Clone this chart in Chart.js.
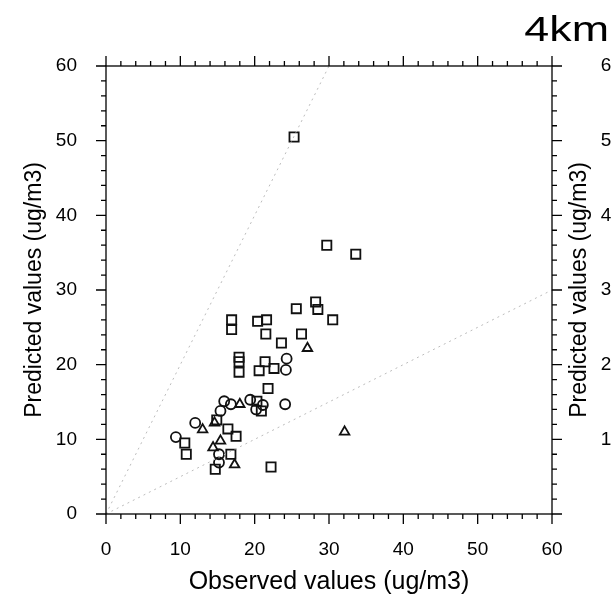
<!DOCTYPE html>
<html>
<head>
<meta charset="utf-8">
<script src="https://cdn.jsdelivr.net/npm/chart.js@4/dist/chart.umd.min.js"></script>
<style>
  html, body { margin: 0; padding: 0; background: #fff; overflow: hidden; }
  #wrap { position: relative; width: 612px; height: 599px; overflow: hidden; }
  canvas { position: absolute; top: 0; }
  #c1 { left: 0; }
  #c2 { left: 545px; }
</style>
</head>
<body>
<div id="wrap">
  <canvas id="c1" width="612" height="599"></canvas>
  <canvas id="c2" width="612" height="599"></canvas>
</div>
<script>
// values (ug/m3)
const obsSquare  = [25.3, 29.7, 33.6, 28.2, 28.5, 25.6, 30.5, 16.9, 16.9, 20.4, 21.6, 21.5, 26.3, 23.6, 17.9, 17.9, 17.9, 21.4, 20.6, 22.6, 21.8, 20.3, 20.9, 14.9, 16.4, 17.5, 10.6, 10.8, 16.8, 14.7, 22.2];
const predSquare = [50.5, 36.0, 34.8, 28.4, 27.4, 27.5, 26.0, 26.0, 24.7, 25.8, 26.0, 24.1, 24.1, 22.9, 21.0, 20.4, 19.0, 20.4, 19.2, 19.5, 16.8, 15.1, 13.8, 12.6, 11.4, 10.4, 9.5, 8.0, 8.0, 6.0, 6.3];

const obsCircle  = [24.3, 24.2, 24.1, 15.9, 16.8, 15.4, 19.4, 21.1, 20.2, 12.0, 9.4, 15.2, 15.2];
const predCircle = [20.8, 19.3, 14.7, 15.1, 14.7, 13.8, 15.3, 14.6, 14.0, 12.2, 10.3, 8.0, 6.9];

const obsTriangle  = [27.1, 18.0, 14.6, 13.0, 15.4, 14.4, 17.3, 32.1];
const predTriangle = [22.2, 14.7, 12.2, 11.3, 9.8, 8.9, 6.6, 11.0];

// 1:2 and 2:1 guide lines
const lineUpper = [[0, 0], [30, 60]];
const lineLower = [[0, 0], [60, 30]];

const axisMin = 0, axisMax = 60, majorStep = 10, minorStep = 2;
const xTitle = 'Observed values (ug/m3)';
const yTitle = 'Predicted values (ug/m3)';
const panelTitle = '4km';

const FONT = "'Liberation Sans', Arial, Helvetica, sans-serif";
Chart.defaults.color = '#000';
Chart.defaults.font.family = FONT;

const pts = (xs, ys) => xs.map((v, i) => ({ x: v, y: ys[i] }));

// frame + outward major/minor ticks on all four sides
const frameTicks = {
  id: 'frameTicks',
  afterDatasetsDraw(chart) {
    const { ctx, chartArea: a, scales: { x, y } } = chart;
    ctx.save();
    ctx.strokeStyle = '#000';
    ctx.lineWidth = 1.3;
    ctx.strokeRect(a.left, a.top, a.right - a.left, a.bottom - a.top);
    ctx.beginPath();
    for (let v = axisMin; v <= axisMax; v += minorStep) {
      const len = v % majorStep === 0 ? 10 : 5;
      const px = x.getPixelForValue(v), py = y.getPixelForValue(v);
      ctx.moveTo(px, a.bottom); ctx.lineTo(px, a.bottom + len);
      ctx.moveTo(px, a.top); ctx.lineTo(px, a.top - len);
      ctx.moveTo(a.left, py); ctx.lineTo(a.left - len, py);
      ctx.moveTo(a.right, py); ctx.lineTo(a.right + len, py);
    }
    ctx.stroke();
    ctx.restore();
  }
};

const titleText = {
  id: 'titleText',
  afterDraw(chart, args, opts) {
    if (!opts.text) return;
    const ctx = chart.ctx;
    ctx.save();
    ctx.translate(609, 41);
    ctx.scale(1.28, 1);
    ctx.font = '35px ' + FONT;
    ctx.fillStyle = '#000';
    ctx.textAlign = 'right';
    ctx.textBaseline = 'alphabetic';
    ctx.fillText(opts.text, 0, 0);
    ctx.restore();
  }
};

function scaleOpts(isX) {
  return {
    type: 'linear',
    min: axisMin,
    max: axisMax,
    afterFit: isX ? s => { s.height = 85; } : s => { s.width = 106; },
    grid: { display: false, drawTicks: false },
    border: { display: false },
    ticks: {
      stepSize: majorStep,
      padding: isX ? 24 : 29,
      color: '#000',
      font: { size: 19 }
    },
    title: {
      display: true,
      text: isX ? xTitle : yTitle,
      color: '#000',
      font: { size: isX ? 25 : 23, lineHeight: 1 },
      padding: isX ? { top: 0, bottom: 4.5 } : { top: 23.5, bottom: 0 }
    }
  };
}

function markerSet(label, data, style, radius) {
  return {
    type: 'scatter',
    label,
    data,
    pointStyle: style,
    pointRadius: radius,
    borderColor: '#111',
    backgroundColor: 'rgba(0,0,0,0)',
    pointBorderWidth: 1.8
  };
}

function guideSet(label, pairs) {
  return {
    type: 'line',
    label,
    data: pairs.map(p => ({ x: p[0], y: p[1] })),
    borderColor: '#bcbcbc',
    borderWidth: 1,
    borderDash: [2, 4],
    pointRadius: 0,
    fill: false
  };
}

function makeChart(id, datasets, title) {
  return new Chart(document.getElementById(id), {
    type: 'scatter',
    data: { datasets },
    options: {
      responsive: false,
      animation: false,
      events: [],
      layout: { padding: { top: 66, right: 60, left: 0, bottom: 0 } },
      scales: { x: scaleOpts(true), y: scaleOpts(false) },
      plugins: {
        legend: { display: false },
        tooltip: { enabled: false },
        titleText: { text: title }
      }
    },
    plugins: [frameTicks, titleText]
  });
}

makeChart('c1', [
  guideSet('2x', lineUpper),
  guideSet('0.5x', lineLower),
  markerSet('squares', pts(obsSquare, predSquare), 'rect', 6.5),
  markerSet('circles', pts(obsCircle, predCircle), 'circle', 5),
  markerSet('triangles', pts(obsTriangle, predTriangle), 'triangle', 5.5)
], panelTitle);

// next panel, mostly outside the window
makeChart('c2', [], '');
</script>
</body>
</html>
